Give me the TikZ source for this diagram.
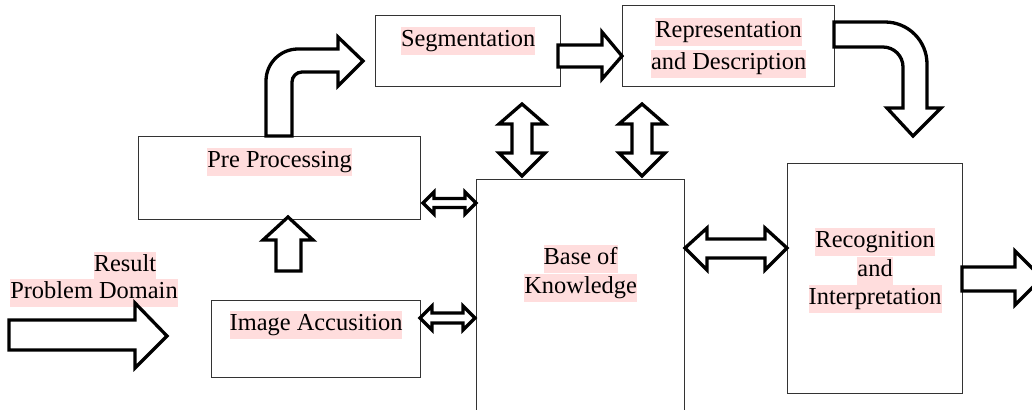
\documentclass[tikz,border=0pt]{standalone}
\usepackage{fontspec}
\setmainfont{Liberation Serif}
\usepackage{xcolor}
\definecolor{hlpink}{RGB}{255,221,221}
\definecolor{boxgray}{RGB}{51,51,51}
\newcommand{\hl}[1]{{\setlength{\fboxsep}{0pt}\colorbox{hlpink}{\strut #1}}}

\begin{document}
\begin{tikzpicture}[x=0.5pt,y=-0.5pt,font=\fontsize{12.2}{14}\selectfont]
    \tikzstyle{every node}+=[inner sep=0pt]
    \tikzstyle{box}=[draw=boxgray, line width=0.6pt, anchor=north west]
    \tikzstyle{blockarrow}=[draw=black, fill=white, line width=1.65pt, line join=miter]
    \useasboundingbox (0,0) rectangle (1032,409);
    \clip (0,0) rectangle (1032,409);
    % boxes
    \node [box, minimum width=141pt, minimum height=41.5pt] (pre) at (138,136) {};
    \node [box, minimum width=104.5pt, minimum height=38.5pt] (img) at (211,300) {};
    \node [box, minimum width=92.5pt, minimum height=35.5pt] (seg) at (375,15) {};
    \node [box, minimum width=106pt, minimum height=40.5pt] (rep) at (622,5) {};
    \node [box, minimum width=104pt, minimum height=125pt] (base) at (476,179) {};
    \node [box, minimum width=87.5pt, minimum height=115pt] (rec) at (787,163) {};
    % labels
    \node (pretxt) at ([yshift=-13pt]pre.north) {\hl{Pre Processing}};
    \node (imgtxt) at ([yshift=-12.5pt]img.north) {\hl{Image Accusition}};
    \node (segtxt) at ([yshift=-13pt]seg.north) {\hl{Segmentation}};
    \node [align=center] (reptxt) at ([yshift=-1pt]rep.center) {\hl{Representation}\\[2pt]\hl{and Description}};
    \node [align=center] (basetxt) at ([yshift=-47pt]base.north) {\hl{Base of}\\[0.5pt]\hl{Knowledge}};
    \node [align=center] (rectxt) at ([yshift=4pt]rec.center) {\hl{Recognition}\\[0.25pt]\hl{and}\\[0.25pt]\hl{Interpretation}};
    \node (result) at (125,266) {\hl{Result}};
    \node (domain) at (94,293) {\hl{Problem Domain}};
    % input and output arrows
    \draw [blockarrow] (9,320) -- (135,320) -- (135,303) -- (167,336) -- (135,368) -- (135,350) -- (9,350) -- cycle;
    \draw [blockarrow] (962,267) -- (1015,267) -- (1015,251) -- (1042,278) -- (1015,305) -- (1015,291) -- (962,291) -- cycle;
    % image accusition to pre processing
    \draw [blockarrow] (276,271) -- (276,240) -- (263,240) -- (288,217) -- (313,240) -- (301,240) -- (301,271) -- cycle;
    % pre processing to segmentation
    \draw [blockarrow] (266,136) -- (266,81) .. controls (266,63.3) and (280.3,49) .. (298,49) -- (338,49) -- (338,37) -- (363,61) -- (338,86) -- (338,72) -- (302,72) .. controls (296.5,72) and (292,76.5) .. (292,82) -- (292,136) -- cycle;
    % segmentation to representation
    \draw [blockarrow] (558,45) -- (602,45) -- (602,32) -- (622,56) -- (602,79) -- (602,67) -- (558,67) -- cycle;
    % representation to recognition
    \draw [blockarrow] (834,22) -- (885,22) .. controls (908.2,22) and (927,40.8) .. (927,64) -- (927,108) -- (941,108) -- (913,136) -- (887,108) -- (903,108) -- (903,67) .. controls (903,56) and (894,47) .. (883,47) -- (834,47) -- cycle;
    % knowledge base links
    \draw [blockarrow] (522,104) -- (545,124) -- (532,124) -- (532,153) -- (545,153) -- (522,176) -- (499,153) -- (512,153) -- (512,124) -- (499,124) -- cycle;
    \draw [blockarrow] (642,104) -- (665,124) -- (652,124) -- (652,153) -- (665,153) -- (642,176) -- (619,153) -- (632,153) -- (632,124) -- (619,124) -- cycle;
    \draw [blockarrow] (423,203) -- (434,192) -- (434,198.5) -- (465,198.5) -- (465,192) -- (476,203) -- (465,214) -- (465,207.5) -- (434,207.5) -- (434,214) -- cycle;
    \draw [blockarrow] (420,318) -- (432,306) -- (432,313) -- (463,313) -- (463,306) -- (475,318) -- (463,330) -- (463,323) -- (432,323) -- (432,330) -- cycle;
    \draw [blockarrow] (685,248) -- (707,228) -- (707,239) -- (765,239) -- (765,228) -- (787,248) -- (765,270) -- (765,258) -- (707,258) -- (707,270) -- cycle;
\end{tikzpicture}
\end{document}
